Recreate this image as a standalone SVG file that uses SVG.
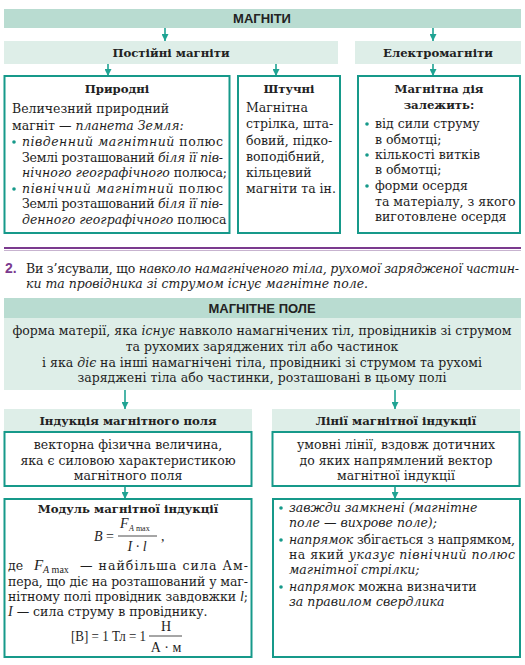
<svg xmlns="http://www.w3.org/2000/svg" width="525" height="665" viewBox="0 0 525 665">
<style>
.hd{fill:#b9dcd1}
.lt{fill:#deeee8}
.bx{fill:#fff;stroke:#16998a;stroke-width:2}
.t{font-family:"DejaVu Serif","Liberation Serif",serif;font-size:12.5px;fill:#1e1e1e}
.f{font-family:"Liberation Serif","Times New Roman",serif;font-size:14px;fill:#1e1e1e}
.c{text-anchor:middle}
.b{font-weight:bold}
.i{font-style:italic}
.s{font-family:"Liberation Sans",Arial,sans-serif;font-weight:bold;font-size:13px;fill:#222;text-anchor:middle}
.hb{font-family:"DejaVu Serif","Liberation Serif",serif;font-weight:bold;font-size:11.7px;fill:#222;text-anchor:middle}
.dot{fill:#16998a}
.ar{stroke:#1fa393;stroke-width:1.6;fill:none}
</style>
<defs>
<marker id="ah" viewBox="0 0 8 8" refX="8" refY="4" markerWidth="7" markerHeight="7" markerUnits="userSpaceOnUse" orient="auto">
<path d="M0,0 L8,4 L0,8 z" fill="#1fa393"/>
</marker>
</defs>

<g id="connectors">
<line class="ar" x1="165" y1="28" x2="165" y2="41" marker-end="url(#ah)"/>
<line class="ar" x1="433" y1="28" x2="433" y2="41" marker-end="url(#ah)"/>
<line class="ar" x1="108" y1="64" x2="108" y2="76" marker-end="url(#ah)"/>
<line class="ar" x1="276" y1="64" x2="276" y2="76" marker-end="url(#ah)"/>
<line class="ar" x1="433" y1="64" x2="433" y2="76" marker-end="url(#ah)"/>
<line class="ar" x1="125" y1="390" x2="125" y2="409" marker-end="url(#ah)"/>
<line class="ar" x1="395" y1="390" x2="395" y2="409" marker-end="url(#ah)"/>
<line class="ar" x1="125" y1="486" x2="125" y2="499" marker-end="url(#ah)"/>
<line class="ar" x1="395" y1="486" x2="395" y2="499" marker-end="url(#ah)"/>
</g>

<g id="magnets">
<rect class="hd" x="4" y="9" width="517" height="19"/>
<text class="s" x="262" y="23">МАГНІТИ</text>
</g>

<g id="permanent">
<rect class="lt" x="4" y="41" width="334" height="23"/>
<text class="hb" x="171" y="57">Постійні магніти</text>
</g>

<g id="electro">
<rect class="lt" x="355" y="41" width="166" height="23"/>
<text class="hb" x="438" y="57">Електромагніти</text>
</g>

<g id="natural">
<rect class="bx" x="4.5" y="76" width="225" height="157"/>
<text class="hb" x="117" y="93">Природні</text>
<text class="t" x="12" y="113">Величезний природний</text>
<text class="t" x="12" y="130">магніт — <tspan class="i">планета Земля:</tspan></text>
<circle class="dot" cx="14" cy="142" r="1.8"/>
<text class="t" x="22" y="146" textLength="201" lengthAdjust="spacing"><tspan class="i">південний магнітний</tspan> полюс</text>
<text class="t" x="22" y="162" textLength="201" lengthAdjust="spacing">Землі розташований <tspan class="i">біля її пів-</tspan></text>
<text class="t" x="22" y="177"><tspan class="i">нічного географічного</tspan> полюса;</text>
<circle class="dot" cx="14" cy="189" r="1.8"/>
<text class="t" x="22" y="193" textLength="201" lengthAdjust="spacing"><tspan class="i">північний магнітний</tspan> полюс</text>
<text class="t" x="22" y="208" textLength="201" lengthAdjust="spacing">Землі розташований <tspan class="i">біля її пів-</tspan></text>
<text class="t" x="22" y="224"><tspan class="i">денного географічного</tspan> полюса</text>
</g>

<g id="artificial">
<rect class="bx" x="238" y="76" width="102" height="157"/>
<text class="hb" x="289" y="93">Штучні</text>
<text class="t" x="246" y="112">Магнітна</text>
<text class="t" x="246" y="128">стрілка, шта-</text>
<text class="t" x="246" y="145">бовий, підко-</text>
<text class="t" x="246" y="161">воподібний,</text>
<text class="t" x="246" y="177">кільцевий</text>
<text class="t" x="246" y="193">магніти та ін.</text>
</g>

<g id="electro-depends">
<rect class="bx" x="358" y="76" width="162" height="157"/>
<text class="hb" x="439" y="93">Магнітна дія</text>
<text class="hb" x="439" y="109">залежить:</text>
<circle class="dot" cx="367" cy="124" r="1.8"/>
<text class="t" x="375" y="128">від сили струму</text>
<text class="t" x="375" y="144">в обмотці;</text>
<circle class="dot" cx="367" cy="155" r="1.8"/>
<text class="t" x="375" y="159">кількості витків</text>
<text class="t" x="375" y="174">в обмотці;</text>
<circle class="dot" cx="367" cy="186" r="1.8"/>
<text class="t" x="375" y="190">форми осердя</text>
<text class="t" x="375" y="206">та матеріалу, з якого</text>
<text class="t" x="375" y="221">виготовлене осердя</text>
</g>

<g id="divider">
<rect x="4" y="247" width="517" height="2" fill="#7b3a8e"/>
<line x1="4" y1="250.5" x2="521" y2="250.5" stroke="#c7b3cf" stroke-width="1"/>
</g>

<g id="intro">
<text x="5" y="273" style="font-family:'Liberation Sans',Arial,sans-serif;font-weight:bold;font-size:14px;fill:#7b3a8e">2.</text>
<text class="t" x="26" y="273" textLength="493" lengthAdjust="spacing">Ви з’ясували, що <tspan class="i">навколо намагніченого тіла, рухомої зарядженої частин-</tspan></text>
<text class="t i" x="26" y="288">ки та провідника зі струмом існує магнітне поле.</text>
</g>

<g id="field">
<rect class="hd" x="4" y="298" width="517" height="20"/>
<text class="s" x="262" y="313">МАГНІТНЕ ПОЛЕ</text>
<rect class="lt" x="4" y="318" width="517" height="72"/>
<text class="t c" x="262" y="335">форма матерії, яка <tspan class="i">існує</tspan> навколо намагнічених тіл, провідників зі струмом</text>
<text class="t c" x="262" y="351">та рухомих заряджених тіл або частинок</text>
<text class="t c" x="262" y="367">і яка <tspan class="i">діє</tspan> на інші намагнічені тіла, провідникі зі струмом та рухомі</text>
<text class="t c" x="262" y="382">заряджені тіла або частинки, розташовані в цьому полі</text>
</g>

<g id="induction">
<rect class="lt" x="4" y="409" width="248" height="23"/>
<text class="hb" x="128" y="425">Індукція магнітного поля</text>
<rect class="bx" x="4.5" y="432" width="247" height="54"/>
<text class="t c" x="128" y="449">векторна фізична величина,</text>
<text class="t c" x="128" y="465">яка є силовою характеристикою</text>
<text class="t c" x="128" y="480">магнітного поля</text>
</g>

<g id="lines">
<rect class="lt" x="272" y="409" width="248" height="23"/>
<text class="hb" x="396" y="425">Лінії магнітної індукції</text>
<rect class="bx" x="272.5" y="432" width="247" height="54"/>
<text class="t c" x="396" y="449">умовні лінії, вздовж дотичних</text>
<text class="t c" x="396" y="465">до яких напрямлений вектор</text>
<text class="t c" x="396" y="480">магнітної індукції</text>
</g>

<g id="modulus">
<rect class="bx" x="4.5" y="499" width="247" height="158"/>
<text class="hb" x="128" y="513">Модуль магнітної індукції</text>
<text class="f" x="94" y="541"><tspan class="i">B</tspan> =</text>
<text class="f i" x="120" y="528">F</text>
<text class="f" x="129" y="531" style="font-size:8px"><tspan class="i">A</tspan> max</text>
<line x1="118" y1="536" x2="157" y2="536" stroke="#1e1e1e" stroke-width="0.8"/>
<text class="f i c" x="137" y="551">I · l</text>
<text class="f" x="161" y="541">,</text>
<text class="t" x="8" y="570">де</text>
<text class="f i" x="34" y="570" style="font-size:15px">F</text>
<text class="f" x="43" y="573" style="font-size:10px"><tspan class="i">A</tspan> max</text>
<text class="t" x="80" y="570" textLength="168" lengthAdjust="spacing">— найбільша сила Ам-</text>
<text class="t" x="8" y="586" textLength="240" lengthAdjust="spacing">пера, що діє на розташований у маг-</text>
<text class="t" x="8" y="601" textLength="240" lengthAdjust="spacing">нітному полі провідник завдовжки <tspan class="i" style="font-family:'Liberation Serif',serif;font-size:14px">l</tspan>;</text>
<text class="t" x="8" y="616"><tspan class="i" style="font-family:'Liberation Serif',serif;font-size:14px">I</tspan> — сила струму в провіднику.</text>
<text class="f" x="71" y="641" textLength="75" lengthAdjust="spacingAndGlyphs">[B] = 1 Тл = 1</text>
<line x1="149" y1="636" x2="182" y2="636" stroke="#1e1e1e" stroke-width="0.8"/>
<text class="f c" x="166" y="631">Н</text>
<text class="f c" x="166" y="652">А · м</text>
</g>

<g id="properties">
<rect class="bx" x="273" y="499" width="247" height="158"/>
<circle class="dot" cx="281" cy="508" r="1.8"/>
<text class="t i" x="289" y="512">завжди замкнені (магнітне</text>
<text class="t i" x="289" y="527">поле — вихрове поле);</text>
<circle class="dot" cx="281" cy="540" r="1.8"/>
<text class="t" x="289" y="544" textLength="226" lengthAdjust="spacing"><tspan class="i">напрямок</tspan> збігається з напрямком,</text>
<text class="t" x="289" y="559" textLength="226" lengthAdjust="spacing">на який <tspan class="i">указує північний полюс</tspan></text>
<text class="t i" x="289" y="574">магнітної стрілки;</text>
<circle class="dot" cx="281" cy="587" r="1.8"/>
<text class="t" x="289" y="591"><tspan class="i">напрямок</tspan> можна визначити</text>
<text class="t i" x="289" y="606">за правилом свердлика</text>
</g>
</svg>
